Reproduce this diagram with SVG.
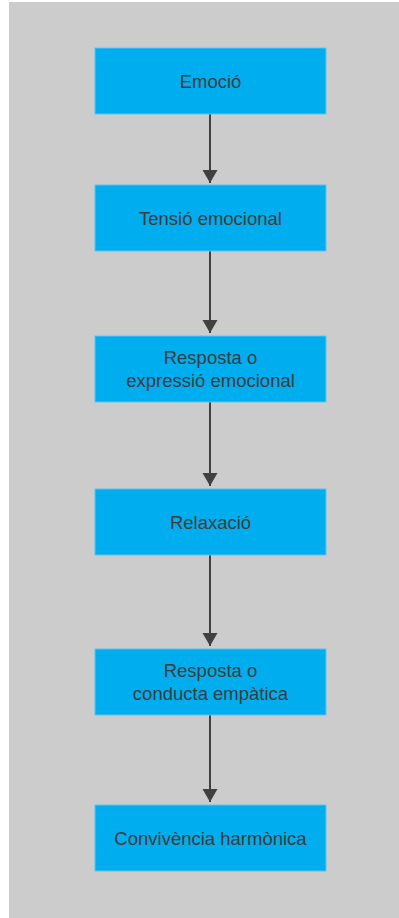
<svg xmlns="http://www.w3.org/2000/svg" width="399" height="918" viewBox="0 0 399 918">
<style>
.box{fill:#00adef;stroke:#5cc3ec;stroke-width:1}
.lbl{font-family:"Liberation Sans",Arial,sans-serif;font-size:18.5px;fill:#3c3c3c;text-anchor:middle}
.edge{stroke:#404040;stroke-width:2;fill:none;marker-end:url(#ah)}
</style>
<defs>
<marker id="ah" markerUnits="userSpaceOnUse" markerWidth="14" markerHeight="16" refX="13" refY="7.5" orient="auto" viewBox="0 0 14 15">
<path d="M0,0 L13,7.5 L0,15 Z" fill="#404040"/>
</marker>
</defs>
<rect x="9" y="2" width="390" height="916" fill="#cccccc"/>
<g id="connectors">
<line class="edge" x1="210" y1="114" x2="210" y2="183"/>
<line class="edge" x1="210" y1="251" x2="210" y2="333"/>
<line class="edge" x1="210" y1="402" x2="210" y2="486"/>
<line class="edge" x1="210" y1="555" x2="210" y2="646"/>
<line class="edge" x1="210" y1="715" x2="210" y2="802"/>
</g>
<g id="n1"><rect class="box" x="95" y="48" width="231" height="66"/><text class="lbl" x="210.5" y="87.5">Emoció</text></g>
<g id="n2"><rect class="box" x="95" y="185" width="231" height="66"/><text class="lbl" x="210.5" y="225">Tensió emocional</text></g>
<g id="n3"><rect class="box" x="95" y="336" width="231" height="66"/><text class="lbl" x="210.5" y="364"><tspan x="210.5">Resposta o</tspan><tspan x="210.5" dy="22.5">expressió emocional</tspan></text></g>
<g id="n4"><rect class="box" x="95" y="489" width="231" height="66"/><text class="lbl" x="210.5" y="528.5">Relaxació</text></g>
<g id="n5"><rect class="box" x="95" y="649" width="231" height="66"/><text class="lbl" x="210.5" y="677"><tspan x="210.5">Resposta o</tspan><tspan x="210.5" dy="22.5">conducta empàtica</tspan></text></g>
<g id="n6"><rect class="box" x="95" y="805" width="231" height="66"/><text class="lbl" x="210.5" y="845">Convivència harmònica</text></g>
</svg>
